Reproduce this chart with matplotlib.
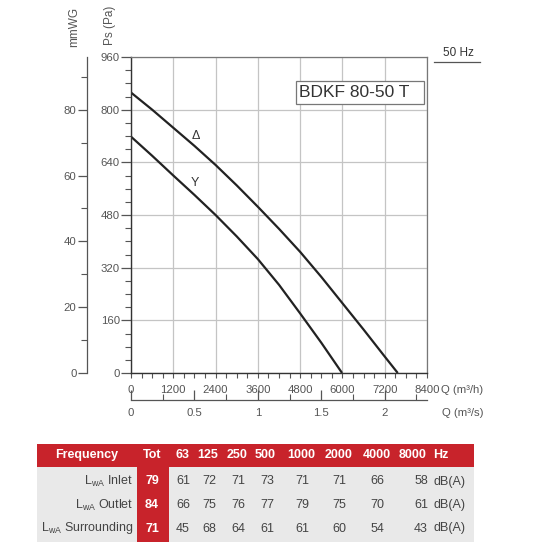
import matplotlib
matplotlib.use("Agg")
import matplotlib.pyplot as plt
from matplotlib.patches import Rectangle
from matplotlib.ticker import MultipleLocator, FixedLocator

plt.rcParams['font.family'] = ['Liberation Sans', 'DejaVu Sans']
plt.rcParams['mathtext.fontset'] = 'custom'
plt.rcParams['mathtext.rm'] = 'Liberation Sans'

# ---- data ----
q_delta = [0, 600, 1200, 1800, 2400, 3000, 3600, 4200, 4800, 5400, 6000, 6600, 7200, 7570]
p_delta = [852, 800, 745, 690, 632, 570, 505, 438, 368, 292, 212, 132, 50, 0]
q_star = [0, 600, 1200, 1800, 2400, 3000, 3600, 4200, 4800, 5400, 5990]
p_star = [718, 660, 600, 541, 480, 415, 346, 268, 181, 92, 0]

x_ticks_m3h = [0, 1200, 2400, 3600, 4800, 6000, 7200, 8400]
y_ticks_pa = [0, 160, 320, 480, 640, 800, 960]
y_ticks_mmwg = [0, 20, 40, 60, 80]
x_ticks_m3s = [0, 0.5, 1, 1.5, 2]

model = "BDKF 80-50 T"
freq_label = "50 Hz"

bands = ["63", "125", "250", "500", "1000", "2000", "4000", "8000"]
row_names = ["Inlet", "Outlet", "Surrounding"]
row_tot = [79, 84, 71]
inlet = [61, 72, 71, 73, 71, 71, 66, 58]
outlet = [66, 75, 76, 77, 79, 75, 70, 61]
surrounding = [45, 68, 64, 61, 61, 60, 54, 43]
rows = [inlet, outlet, surrounding]

W = H = 550
fig = plt.figure(figsize=(5.5, 5.5), dpi=100)
fx = lambda px: px / W
fy = lambda py: 1 - py / H

L, R, T, B = 131, 427, 57, 373
ax = fig.add_axes([fx(L), fy(B), (R - L) / W, (B - T) / H])
ax.set_xlim(0, 8400)
ax.set_ylim(0, 960)

txt = '#555555'
tfs = 8.2
ax.plot(q_delta, p_delta, color='#222222', lw=1.6, solid_capstyle='butt')
ax.plot(q_star, p_star, color='#222222', lw=1.6, solid_capstyle='butt')
ax.text(1845, 720, 'Δ', fontsize=9, color='#333333', ha='center', va='center')
ax.text(1816, 577, 'Y', fontsize=9, color='#333333', ha='center', va='center')

ax.set_xticks(x_ticks_m3h)
ax.set_yticks(y_ticks_pa)
ax.xaxis.set_minor_locator(MultipleLocator(300))
ax.yaxis.set_minor_locator(MultipleLocator(40))
ax.grid(True, which='major', color='#c4c4c4', lw=0.9)
ax.set_axisbelow(True)
for s in ['top', 'right']:
    ax.spines[s].set_color('#777777')
    ax.spines[s].set_linewidth(0.9)
for s in ['left', 'bottom']:
    ax.spines[s].set_color('#333333')
    ax.spines[s].set_linewidth(1.0)
ax.tick_params(axis='y', which='major', direction='out', length=7, width=0.9,
               color='#555555', labelsize=tfs, labelcolor=txt, pad=1)
ax.tick_params(axis='y', which='minor', direction='out', length=4.5, width=0.8, color='#555555')
ax.tick_params(axis='x', which='both', direction='out', length=3.5, width=0.8,
               color='#555555', labelsize=tfs, labelcolor=txt, pad=5)

# mmWG secondary axis
sec = ax.secondary_yaxis(-44 / (R - L), functions=(lambda p: p / 10, lambda m: m * 10))
sec.set_yticks(y_ticks_mmwg)
sec.yaxis.set_minor_locator(FixedLocator([10, 30, 50, 70, 90]))
sec.spines['left'].set_color('#555555')
sec.spines['left'].set_linewidth(0.9)
sec.tick_params(which='major', direction='out', length=6.5, width=0.9, color='#555555',
                labelsize=tfs, labelcolor=txt, pad=1)
sec.tick_params(which='minor', direction='out', length=4.5, width=0.8, color='#555555')

# m3/s secondary axis
secx = ax.secondary_xaxis(-27 / (B - T), functions=(lambda q: q / 3600, lambda s: s * 3600))
secx.set_xticks(x_ticks_m3s)
secx.set_xticklabels(['0', '0.5', '1', '1.5', '2'])
secx.xaxis.set_minor_locator(FixedLocator([0.25, 0.75, 1.25, 1.75, 2.25]))
secx.spines['bottom'].set_color('#555555')
secx.spines['bottom'].set_linewidth(0.9)
secx.tick_params(which='major', direction='in', length=7, width=0.9, color='#555555',
                 labelsize=tfs, labelcolor=txt, pad=6)
secx.tick_params(which='minor', direction='in', length=4, width=0.8, color='#555555')

# axis titles
fig.text(fx(74), fy(27), 'mmWG', rotation=90, ha='center', va='center', fontsize=8.5, color=txt)
fig.text(fx(110), fy(25), 'Ps (Pa)', rotation=90, ha='center', va='center', fontsize=8.5, color=txt)
fig.text(fx(441), fy(390), 'Q (m³/h)', ha='left', va='center', fontsize=tfs, color=txt)
fig.text(fx(442), fy(413), 'Q (m³/s)', ha='left', va='center', fontsize=tfs, color=txt)

# 50 Hz
fig.text(fx(458), fy(53), freq_label, ha='center', va='center', fontsize=8.5, color='#333333')
fig.add_artist(plt.Line2D([fx(434), fx(480)], [fy(62), fy(62)], color='#555555', lw=0.9))

# model box
fig.add_artist(Rectangle((fx(296), fy(103.5)), (424 - 296) / W, (103.5 - 81.5) / H,
                         facecolor='white', edgecolor='#777777', lw=0.9, zorder=5))
fig.text(fx(299), fy(92.5), model, ha='left', va='center', fontsize=12.5, color='#333333', zorder=6)

# ---- table ----
red = '#C8232B'
gray = '#E9E9E9'
tx0, tx1 = 37, 474
hy0, hy1 = 444, 467
ry1 = 542
fig.add_artist(Rectangle((fx(tx0), fy(ry1)), (tx1 - tx0) / W, (ry1 - hy1) / H,
                         facecolor=gray, edgecolor='none'))
fig.add_artist(Rectangle((fx(tx0), fy(hy1)), (tx1 - tx0) / W, (hy1 - hy0) / H,
                         facecolor=red, edgecolor='none'))
fig.add_artist(Rectangle((fx(137), fy(ry1)), (168.5 - 137) / W, (ry1 - hy0) / H,
                         facecolor=red, edgecolor='none'))

hyc = 455
fs = 9
fig.text(fx(87), fy(hyc), 'Frequency', ha='center', va='center', fontsize=fs,
         color='white', fontweight='bold')
fig.text(fx(152), fy(hyc), 'Tot', ha='center', va='center', fontsize=fs,
         color='white', fontweight='bold')
band_x = [183, 208, 237, 265, 301, 339, 377, 413]
for b, x in zip(bands, band_x):
    fig.text(fx(x), fy(hyc), b, ha='center', va='center', fontsize=fs,
             color='white', fontweight='bold')
fig.text(fx(433), fy(hyc), 'Hz', ha='left', va='center', fontsize=fs,
         color='white', fontweight='bold')

row_y = [481.5, 505, 528.5]
val_x = [183, 209, 238, 267, 302, 339, 377, 428]
for name, tot, vals, y in zip(row_names, row_tot, rows, row_y):
    fig.text(fx(133), fy(y), r'L$_{\mathrm{wA}}$ ' + name, ha='right', va='center',
             fontsize=fs, color='#444444')
    fig.text(fx(152), fy(y), str(tot), ha='center', va='center', fontsize=fs,
             color='white', fontweight='bold')
    for i, (v, x) in enumerate(zip(vals, val_x)):
        ha = 'right' if i == len(vals) - 1 else 'center'
        fig.text(fx(x), fy(y), str(v), ha=ha, va='center', fontsize=fs, color='#444444')
    fig.text(fx(433), fy(y), 'dB(A)', ha='left', va='center', fontsize=fs, color='#444444')

fig.savefig('out.png', dpi=100)
